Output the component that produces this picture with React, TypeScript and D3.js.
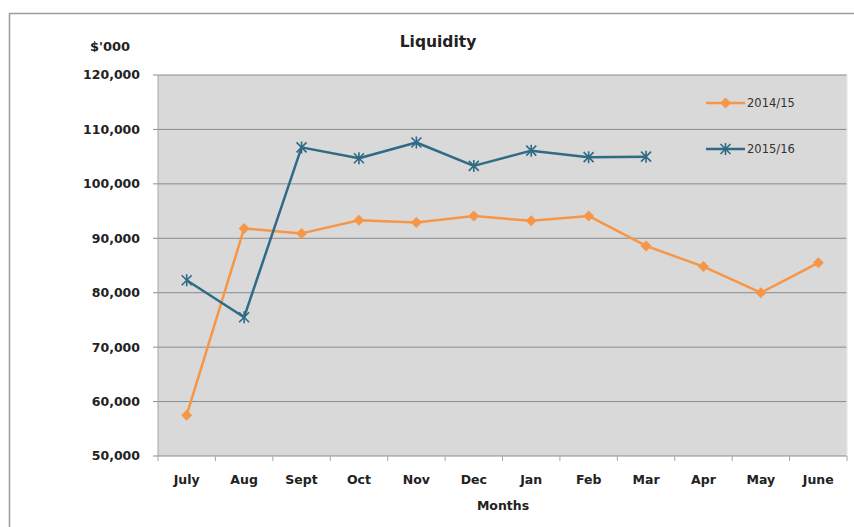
import React from "react";
import * as d3 from "d3";

const months = ["July", "Aug", "Sept", "Oct", "Nov", "Dec", "Jan", "Feb", "Mar", "Apr", "May", "June"];
const series1415 = [57500, 91800, 90900, 93300, 92900, 94100, 93200, 94100, 88600, 84800, 80000, 85500];
const series1516 = [82300, 75500, 106700, 104700, 107600, 103300, 106100, 104900, 105000];
const yTicks = [50000, 60000, 70000, 80000, 90000, 100000, 110000, 120000];
const seriesNames = ["2014/15", "2015/16"];

const W = 854, H = 527;
const plot = { left: 158, right: 847, top: 75, bottom: 456 };
const ORANGE = "#f79646";
const BLUE = "#2f6b84";
const FONT = "'DejaVu Sans', 'Liberation Sans', sans-serif";

export default function App() {
  const x = d3.scaleBand<string>().domain(months).range([plot.left, plot.right]);
  const y = d3.scaleLinear().domain([50000, 120000]).range([plot.bottom, plot.top]);
  const cx = (m: string) => (x(m) as number) + x.bandwidth() / 2;
  const line = d3.line<[string, number]>().x((d) => cx(d[0])).y((d) => y(d[1]));
  const d1 = months.map((m, i) => [m, series1415[i]] as [string, number]);
  const d2 = series1516.map((v, i) => [months[i], v] as [string, number]);
  const diamond = (px: number, py: number, r = 5.5) =>
    `M${px},${py - r}L${px + r},${py}L${px},${py + r}L${px - r},${py}Z`;
  const star = (px: number, py: number, r = 5) =>
    `M${px - r},${py - r}L${px + r},${py + r}M${px - r},${py + r}L${px + r},${py - r}M${px},${py - r - 1}L${px},${py + r + 1}`;
  const fmt = d3.format(",");

  return (
    <svg width={W} height={H} style={{ position: "absolute", left: 0, top: 0, background: "#fff" }} fontFamily={FONT}>
      <rect x={9.5} y={13.5} width={W} height={H} fill="#fff" stroke="#9a9a9a" strokeWidth={1.5} />
      <rect x={plot.left} y={plot.top} width={plot.right - plot.left} height={plot.bottom - plot.top} fill="#d9d9d9" />
      {yTicks.map((t) => (
        <g key={t}>
          <line x1={plot.left - 5} x2={plot.right} y1={y(t)} y2={y(t)} stroke="#8c8c8c" strokeWidth={1} />
          <text x={140} y={y(t)} dy="0.35em" textAnchor="end" fontSize={12.5} fontWeight="bold" fill="#222">
            {fmt(t)}
          </text>
        </g>
      ))}
      <line x1={plot.left} x2={plot.left} y1={plot.top} y2={plot.bottom} stroke="#a6a6a6" />
      <line x1={plot.right} x2={plot.right} y1={plot.top} y2={plot.bottom} stroke="#e6e6e6" />
      {months.map((m, i) => (
        <g key={m}>
          <line x1={x(m) as number} x2={x(m) as number} y1={plot.bottom} y2={plot.bottom + 5} stroke="#a6a6a6" />
          {i === months.length - 1 && (
            <line x1={plot.right} x2={plot.right} y1={plot.bottom} y2={plot.bottom + 5} stroke="#a6a6a6" />
          )}
          <text x={cx(m)} y={484} textAnchor="middle" fontSize={12.5} fontWeight="bold" fill="#222">
            {m}
          </text>
        </g>
      ))}
      <text x={503} y={510} textAnchor="middle" fontSize={12.5} fontWeight="bold" fill="#222">Months</text>
      <text x={438} y={47} textAnchor="middle" fontSize={15.5} fontWeight="bold" fill="#222">Liquidity</text>
      <text x={110} y={51} textAnchor="middle" fontSize={13} fontWeight="bold" fill="#222">$'000</text>

      <path d={line(d1) as string} fill="none" stroke={ORANGE} strokeWidth={2.5} strokeLinejoin="round" />
      {d1.map((d) => (
        <path key={d[0]} d={diamond(cx(d[0]), y(d[1]))} fill={ORANGE} />
      ))}
      <path d={line(d2) as string} fill="none" stroke={BLUE} strokeWidth={2.5} strokeLinejoin="round" />
      {d2.map((d) => (
        <path key={d[0]} d={star(cx(d[0]), y(d[1]))} stroke={BLUE} strokeWidth={1.6} fill="none" />
      ))}

      {seriesNames.map((n, i) => {
        const ly = 103 + i * 46;
        return (
          <g key={n}>
            <line x1={706} x2={745} y1={ly} y2={ly} stroke={i === 0 ? ORANGE : BLUE} strokeWidth={2.5} />
            {i === 0 ? (
              <path d={diamond(725.5, ly)} fill={ORANGE} />
            ) : (
              <path d={star(725.5, ly)} stroke={BLUE} strokeWidth={1.6} fill="none" />
            )}
            <text x={747} y={ly} dy="0.35em" fontSize={11.5} fill="#333">{n}</text>
          </g>
        );
      })}
    </svg>
  );
}
